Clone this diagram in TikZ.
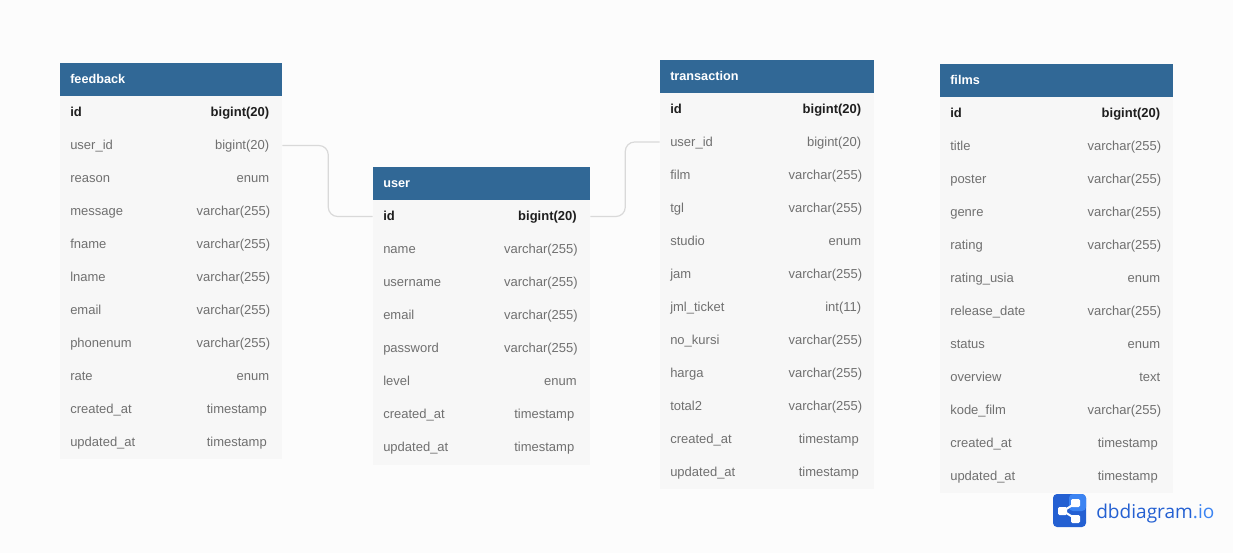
\documentclass[tikz,border=0pt]{standalone}
\usepackage{fontspec}
\setmainfont{Liberation Sans}
\newfontfamily\logofont{Open Sans}
\definecolor{pagecolor}{HTML}{FCFCFC}
\definecolor{headcolor}{HTML}{316896}
\definecolor{rowcolor}{HTML}{F7F7F7}
\definecolor{fieldcolor}{HTML}{707070}
\definecolor{keycolor}{HTML}{1E1E1E}
\definecolor{linkcolor}{HTML}{D9D9D9}
\definecolor{logodark}{HTML}{2460D2}
\definecolor{logolight}{HTML}{3C84F2}
\begin{document}
\begin{tikzpicture}
[x=0.75pt,y=-0.75pt,
  headdecorate/.style={shape=rectangle,fill=headcolor,inner sep=0pt,minimum height=24.75pt},%
  bodydecorate/.style={shape=rectangle,fill=rowcolor,inner sep=0pt},%
  titledecorate/.style={anchor=base west,inner sep=0pt,text=white,font=\fontsize{9.5pt}{12pt}\selectfont\bfseries},%
  namedecorate/.style={anchor=base west,inner sep=0pt,text=fieldcolor,font=\fontsize{9.75pt}{12pt}\selectfont},%
  typedecorate/.style={anchor=base east,inner sep=0pt,text=fieldcolor,font=\fontsize{9.75pt}{12pt}\selectfont},%
  keyname/.style={namedecorate,text=keycolor,font=\fontsize{9.75pt}{12pt}\selectfont\bfseries},%
  keytype/.style={typedecorate,text=keycolor,font=\fontsize{9.75pt}{12pt}\selectfont\bfseries},%
  linkdecorate/.style={draw=linkcolor,line width=0.9pt,rounded corners=7pt}]
% page
\fill [pagecolor] (0,0) rectangle (1233,553);
\useasboundingbox (0,0) rectangle (1233,553);
% table feedback
\node (feedbackbody) at (171,277) [bodydecorate,minimum width=166.5pt,minimum height=272.25pt] {};
\node (feedbackhead) at (171,79) [headdecorate,minimum width=166.5pt] {};
\node (feedbacktitle) at (70,83) [titledecorate] {feedback};
\node (feedbackuserid) at (171,145.5) [bodydecorate,minimum width=166.5pt,minimum height=24.75pt] {};
\node (fb1) at (70,116.5) [keyname] {id};
\node (fb1t) at (269.5,116.5) [keytype] {bigint(20)};
\node (fb2) at (70,149.5) [namedecorate] {user\_id};
\node (fb2t) at (269.5,149.5) [typedecorate] {bigint(20)};
\node (fb3) at (70,182.5) [namedecorate] {reason};
\node (fb3t) at (269.5,182.5) [typedecorate] {enum};
\node (fb4) at (70,215.5) [namedecorate] {message};
\node (fb4t) at (270.5,215.5) [typedecorate] {varchar(255)};
\node (fb5) at (70,248.5) [namedecorate] {fname};
\node (fb5t) at (270.5,248.5) [typedecorate] {varchar(255)};
\node (fb6) at (70,281.5) [namedecorate] {lname};
\node (fb6t) at (270.5,281.5) [typedecorate] {varchar(255)};
\node (fb7) at (70,314.5) [namedecorate] {email};
\node (fb7t) at (270.5,314.5) [typedecorate] {varchar(255)};
\node (fb8) at (70,347.5) [namedecorate] {phonenum};
\node (fb8t) at (270.5,347.5) [typedecorate] {varchar(255)};
\node (fb9) at (70,380.5) [namedecorate] {rate};
\node (fb9t) at (269.5,380.5) [typedecorate] {enum};
\node (fb10) at (70,413.5) [namedecorate] {created\_at};
\node (fb10t) at (267,413.5) [typedecorate] {timestamp};
\node (fb11) at (70,446.5) [namedecorate] {updated\_at};
\node (fb11t) at (267,446.5) [typedecorate] {timestamp};
% table user
\node (userbody) at (481.5,332.5) [bodydecorate,minimum width=162.75pt,minimum height=198pt] {};
\node (userhead) at (481.5,183.5) [headdecorate,minimum width=162.75pt] {};
\node (usertitle) at (383,187) [titledecorate] {user};
\node (userid) at (481.5,216.5) [bodydecorate,minimum width=162.75pt,minimum height=24.75pt] {};
\node (us1) at (383,220) [keyname] {id};
\node (us1t) at (577,220) [keytype] {bigint(20)};
\node (us2) at (383,253) [namedecorate] {name};
\node (us2t) at (578,253) [typedecorate] {varchar(255)};
\node (us3) at (383,286) [namedecorate] {username};
\node (us3t) at (578,286) [typedecorate] {varchar(255)};
\node (us4) at (383,319) [namedecorate] {email};
\node (us4t) at (578,319) [typedecorate] {varchar(255)};
\node (us5) at (383,352) [namedecorate] {password};
\node (us5t) at (578,352) [typedecorate] {varchar(255)};
\node (us6) at (383,385) [namedecorate] {level};
\node (us6t) at (577,385) [typedecorate] {enum};
\node (us7) at (383,418) [namedecorate] {created\_at};
\node (us7t) at (574.5,418) [typedecorate] {timestamp};
\node (us8) at (383,451) [namedecorate] {updated\_at};
\node (us8t) at (574.5,451) [typedecorate] {timestamp};
% table transaction
\node (transactionbody) at (767,291) [bodydecorate,minimum width=160.5pt,minimum height=297pt] {};
\node (transactionhead) at (767,76.5) [headdecorate,minimum width=160.5pt] {};
\node (transactiontitle) at (670,80) [titledecorate] {transaction};
\node (transactionuserid) at (767,142) [bodydecorate,minimum width=160.5pt,minimum height=24.75pt] {};
\node (tr1) at (670,113) [keyname] {id};
\node (tr1t) at (861.5,113) [keytype] {bigint(20)};
\node (tr2) at (670,146) [namedecorate] {user\_id};
\node (tr2t) at (861.5,146) [typedecorate] {bigint(20)};
\node (tr3) at (670,179) [namedecorate] {film};
\node (tr3t) at (862.5,179) [typedecorate] {varchar(255)};
\node (tr4) at (670,212) [namedecorate] {tgl};
\node (tr4t) at (862.5,212) [typedecorate] {varchar(255)};
\node (tr5) at (670,245) [namedecorate] {studio};
\node (tr5t) at (861.5,245) [typedecorate] {enum};
\node (tr6) at (670,278) [namedecorate] {jam};
\node (tr6t) at (862.5,278) [typedecorate] {varchar(255)};
\node (tr7) at (670,311) [namedecorate] {jml\_ticket};
\node (tr7t) at (861.5,311) [typedecorate] {int(11)};
\node (tr8) at (670,344) [namedecorate] {no\_kursi};
\node (tr8t) at (862.5,344) [typedecorate] {varchar(255)};
\node (tr9) at (670,377) [namedecorate] {harga};
\node (tr9t) at (862.5,377) [typedecorate] {varchar(255)};
\node (tr10) at (670,410) [namedecorate] {total2};
\node (tr10t) at (862.5,410) [typedecorate] {varchar(255)};
\node (tr11) at (670,443) [namedecorate] {created\_at};
\node (tr11t) at (859,443) [typedecorate] {timestamp};
\node (tr12) at (670,476) [namedecorate] {updated\_at};
\node (tr12t) at (859,476) [typedecorate] {timestamp};
% table films
\node (filmsbody) at (1056.5,295) [bodydecorate,minimum width=174.75pt,minimum height=297pt] {};
\node (filmshead) at (1056.5,80.5) [headdecorate,minimum width=174.75pt] {};
\node (filmstitle) at (950,84) [titledecorate] {films};
\node (fi1) at (950,117) [keyname] {id};
\node (fi1t) at (1160.5,117) [keytype] {bigint(20)};
\node (fi2) at (950,150) [namedecorate] {title};
\node (fi2t) at (1161.5,150) [typedecorate] {varchar(255)};
\node (fi3) at (950,183) [namedecorate] {poster};
\node (fi3t) at (1161.5,183) [typedecorate] {varchar(255)};
\node (fi4) at (950,216) [namedecorate] {genre};
\node (fi4t) at (1161.5,216) [typedecorate] {varchar(255)};
\node (fi5) at (950,249) [namedecorate] {rating};
\node (fi5t) at (1161.5,249) [typedecorate] {varchar(255)};
\node (fi6) at (950,282) [namedecorate] {rating\_usia};
\node (fi6t) at (1160.5,282) [typedecorate] {enum};
\node (fi7) at (950,315) [namedecorate] {release\_date};
\node (fi7t) at (1161.5,315) [typedecorate] {varchar(255)};
\node (fi8) at (950,348) [namedecorate] {status};
\node (fi8t) at (1160.5,348) [typedecorate] {enum};
\node (fi9) at (950,381) [namedecorate] {overview};
\node (fi9t) at (1160.5,381) [typedecorate] {text};
\node (fi10) at (950,414) [namedecorate] {kode\_film};
\node (fi10t) at (1161.5,414) [typedecorate] {varchar(255)};
\node (fi11) at (950,447) [namedecorate] {created\_at};
\node (fi11t) at (1158,447) [typedecorate] {timestamp};
\node (fi12) at (950,480) [namedecorate] {updated\_at};
\node (fi12t) at (1158,480) [typedecorate] {timestamp};
% edges or lines
\draw [linkdecorate] (feedbackuserid.east) -- ++(46,0) |- (userid.west);
\draw [linkdecorate] (userid.east) -- ++(35,0) |- (transactionuserid.west);
% logo
\fill [logodark,rounded corners=3pt] (1053,494) rectangle (1086,527);
\fill [logolight,rounded corners=3pt] (1069,494) rectangle (1086,511);
\draw [white,line width=1.5pt] (1063,511) -- (1076,503) (1063,511) -- (1076,519);
\fill [white,rounded corners=1pt] (1058,507) rectangle (1067,515);
\fill [white,rounded corners=1pt] (1071,499) rectangle (1080,507);
\fill [white,rounded corners=1pt] (1071,515) rectangle (1080,523);
\node (logotext) at (1096,518) [anchor=base west,inner sep=0pt,font=\logofont\fontsize{14.3pt}{18pt}\selectfont,text=logodark] {dbdiagram\textcolor{logolight}{.io}};
\end{tikzpicture}
\end{document}
